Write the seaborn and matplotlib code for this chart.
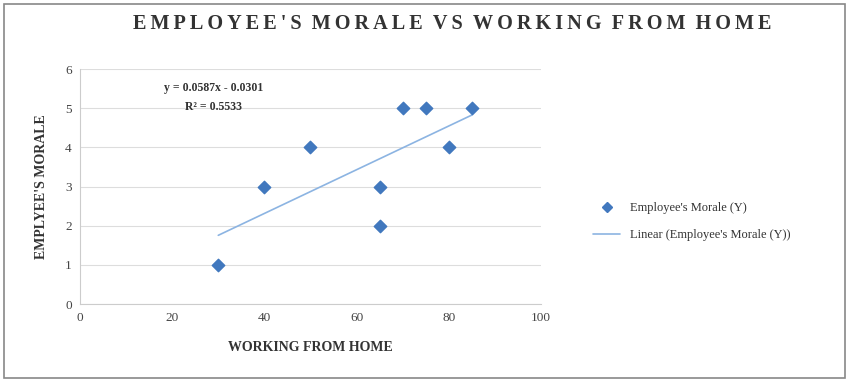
import numpy as np
import pandas as pd
import seaborn as sns
import matplotlib.pyplot as plt
from matplotlib.patches import Rectangle
from matplotlib.lines import Line2D

working_from_home = [30, 40, 50, 65, 65, 70, 75, 80, 85]
morale = [1, 3, 4, 3, 2, 5, 5, 4, 5]
x_ticks = [0, 20, 40, 60, 80, 100]
y_ticks = [0, 1, 2, 3, 4, 5, 6]

df = pd.DataFrame({"x": working_from_home, "y": morale})

sns.set_theme(style="white")
plt.rcParams['font.family'] = ['Liberation Serif', 'DejaVu Serif']

fig = plt.figure(figsize=(8.49, 3.82), dpi=100)
ax = fig.add_axes([0.0942, 0.204, 0.543, 0.615])

sns.regplot(data=df, x="x", y="y", ci=None, ax=ax, truncate=True, marker="D",
            scatter_kws=dict(s=40, color="#4178be", edgecolor="#4178be", alpha=1, zorder=3),
            line_kws=dict(color="#8cb4e2", lw=1.2, zorder=2))

ax.set_xlim(0, 100)
ax.set_ylim(0, 6)
ax.set_xticks(x_ticks)
ax.set_yticks(y_ticks)
ax.tick_params(axis='both', labelsize=9.5, colors="#444444", length=0, pad=6)
ax.yaxis.grid(True, color="#dddddd", lw=0.8)
ax.xaxis.grid(False)
for s in ["top", "right"]:
    ax.spines[s].set_visible(False)
for s in ["left", "bottom"]:
    ax.spines[s].set_color("#cccccc")
    ax.spines[s].set_linewidth(0.8)

ax.set_xlabel("WORKING FROM HOME", fontsize=10, fontweight="bold", color="#333333", labelpad=12)
ax.set_ylabel("EMPLYEE'S MORALE", fontsize=10, fontweight="bold", color="#333333", labelpad=12)

ax.text(0.29, 0.905, "y = 0.0587x - 0.0301", transform=ax.transAxes, ha="center",
        fontsize=8.5, fontweight="bold", color="#333333")
ax.text(0.29, 0.825, "R² = 0.5533", transform=ax.transAxes, ha="center",
        fontsize=8.5, fontweight="bold", color="#333333")

title = "EMPLOYEE'S MORALE VS WORKING FROM HOME"
fig.text(0.533, 0.925, "\u2009".join(title).replace("\u2009 \u2009", "\u2002"), ha="center",
         fontsize=14.6, fontweight="bold", color="#333333")

handles = [Line2D([], [], marker="D", color="#4178be", ls="none", markersize=5),
           Line2D([], [], color="#8cb4e2", lw=1.2)]
fig.legend(handles, ["Employee's Morale (Y)", "Linear (Employee's Morale (Y))"],
           loc="center left", bbox_to_anchor=(0.685, 0.42), frameon=False,
           fontsize=9, handlelength=2.2, labelspacing=1.2, labelcolor="#333333")

fig.patches.append(Rectangle((0.005, 0.01), 0.99, 0.98, transform=fig.transFigure,
                             fill=False, edgecolor="#888888", lw=1.2))

fig.savefig("out.png", dpi=100, facecolor="white")
